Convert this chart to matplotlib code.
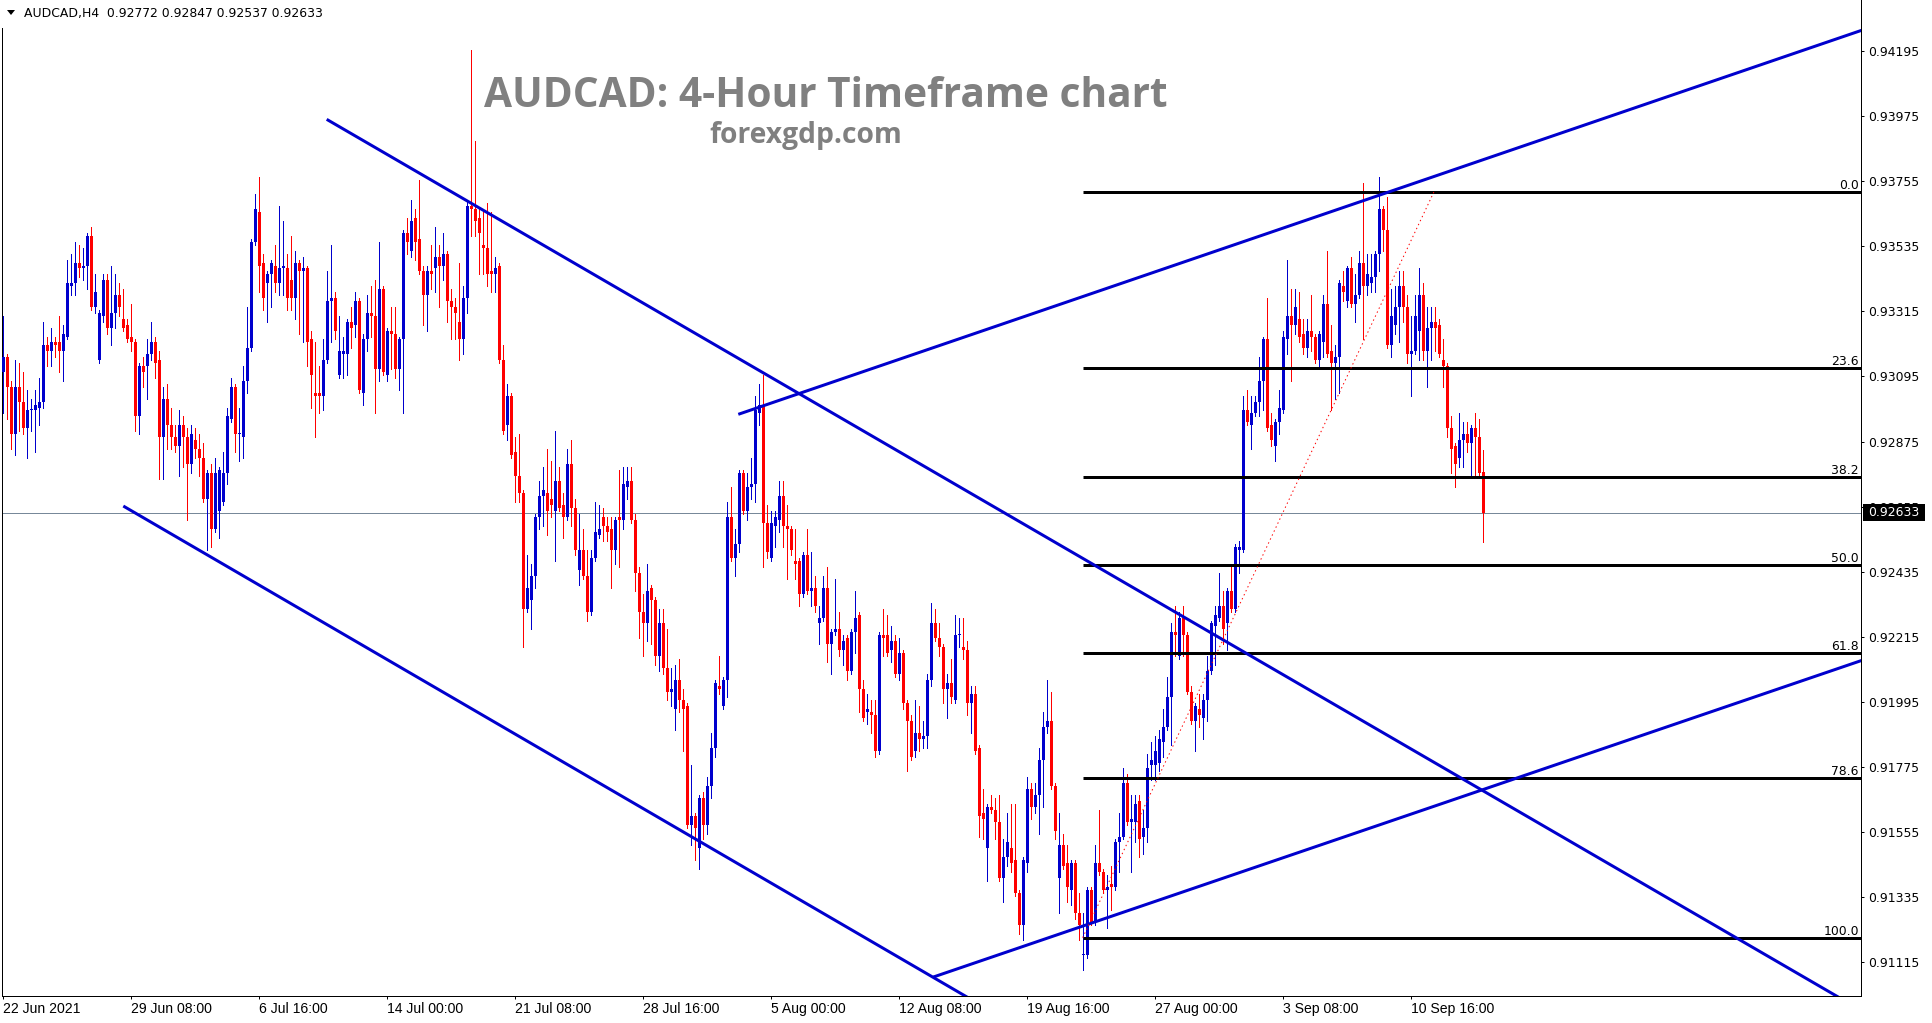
import matplotlib
matplotlib.use("Agg")
import matplotlib.pyplot as plt
import matplotlib.transforms as mtransforms
from matplotlib.patches import Rectangle, Polygon
import numpy as np

# ---------------- data (AUDCAD H4) ----------------
opens = [
 0.9311,0.9316,0.9306,0.9290,0.9306,0.9301,0.9292,0.9298,0.9298,0.9299,0.9301,0.9320,0.9318,0.9321,0.9321,0.9318,
 0.9323,0.9340,0.9341,0.9348,0.9346,0.9347,0.9357,0.9333,0.9315,0.9330,0.9342,0.9326,0.9331,0.9337,0.9329,0.9327,
 0.9323,0.9321,0.9296,0.9313,0.9313,0.9317,0.9321,0.9315,0.9289,0.9302,0.9293,0.9289,0.9286,0.9293,0.9289,0.9280,
 0.9288,0.9285,0.9282,0.9268,0.9277,0.9258,0.9264,0.9267,0.9277,0.9295,0.9306,0.9290,0.9289,0.9308,0.9319,0.9355,
 0.9365,0.9348,0.9341,0.9344,0.9347,0.9341,0.9346,0.9346,0.9342,0.9336,0.9348,0.9345,0.9346,0.9322,0.9304,0.9304,
 0.9303,0.9315,0.9335,0.9336,0.9310,0.9317,0.9317,0.9328,0.9327,0.9335,0.9304,0.9322,0.9331,0.9330,0.9312,0.9339,
 0.9310,0.9325,0.9324,0.9312,0.9322,0.9358,0.9352,0.9363,0.9356,0.9345,0.9337,0.9345,0.9346,0.9350,0.9347,0.9351,
 0.9335,0.9333,0.9328,0.9322,0.9336,0.9367,0.9366,0.9363,0.9354,0.9353,0.9345,0.9344,0.9347,0.9315,0.9293,0.9303,
 0.9284,0.9276,0.9270,0.9231,0.9234,0.9242,0.9262,0.9269,0.9270,0.9268,0.9264,0.9274,0.9266,0.9262,0.9280,0.9265,
 0.9244,0.9251,0.9242,0.9230,0.9248,0.9256,0.9262,0.9259,0.9258,0.9251,0.9262,0.9261,0.9272,0.9274,0.9261,0.9243,
 0.9230,0.9226,0.9238,0.9234,0.9215,0.9226,0.9211,0.9203,0.9197,0.9207,0.9200,0.9198,0.9158,0.9161,0.9150,0.9167,
 0.9158,0.9171,0.9184,0.9205,0.9198,0.9207,0.9262,0.9248,0.9253,0.9277,0.9264,0.9272,0.9273,0.9297,0.9300,0.9260,
 0.9248,0.9259,0.9261,0.9269,0.9259,0.9258,0.9247,0.9247,0.9236,0.9249,0.9237,0.9238,0.9226,0.9228,0.9238,0.9219,
 0.9223,0.9224,0.9217,0.9221,0.9210,0.9223,0.9229,0.9204,0.9196,0.9196,0.9195,0.9183,0.9222,0.9222,0.9217,0.9220,
 0.9209,0.9216,0.9199,0.9193,0.9183,0.9189,0.9187,0.9188,0.9207,0.9226,0.9221,0.9218,0.9204,0.9206,0.9200,0.9222,
 0.9218,0.9217,0.9199,0.9202,0.9184,0.9162,0.9150,0.9164,0.9163,0.9159,0.9140,0.9147,0.9150,0.9146,0.9135,0.9124,
 0.9145,0.9170,0.9164,0.9168,0.9180,0.9191,0.9193,0.9171,0.9140,0.9151,0.9145,0.9136,0.9145,0.9128,0.9114,0.9114,
 0.9136,0.9125,0.9145,0.9142,0.9136,0.9138,0.9137,0.9152,0.9154,0.9172,0.9159,0.9159,0.9166,0.9154,0.9157,0.9178,
 0.9178,0.9179,0.9186,0.9191,0.9201,0.9223,0.9215,0.9228,0.9222,0.9203,0.9193,0.9197,0.9194,0.9200,0.9210,0.9225,
 0.9228,0.9232,0.9226,0.9237,0.9231,0.9251,0.9251,0.9298,0.9293,0.9297,0.9301,0.9308,0.9322,0.9293,0.9286,0.9294,
 0.9298,0.9322,0.9330,0.9327,0.9329,0.9324,0.9319,0.9325,0.9323,0.9315,0.9321,0.9334,0.9318,0.9314,0.9316,0.9340,
 0.9335,0.9346,0.9334,0.9337,0.9348,0.9340,0.9341,0.9343,0.9351,0.9366,0.9359,0.9320,0.9327,0.9333,0.9340,0.9333,
 0.9317,0.9318,0.9325,0.9337,0.9318,0.9326,0.9328,0.9327,0.9315,0.9313,0.9292,0.9286,0.9282,0.9288,0.9290,0.9287,
 0.9292,0.9289,0.92772,
]
highs = [
 0.9330,0.9317,0.9308,0.9315,0.9314,0.9311,0.9305,0.9302,0.9305,0.9309,0.9328,0.9323,0.9326,0.9323,0.9330,0.9327,
 0.9349,0.9351,0.9355,0.9354,0.9353,0.9358,0.9360,0.9344,0.9332,0.9344,0.9344,0.9347,0.9344,0.9341,0.9339,0.9329,
 0.9334,0.9322,0.9314,0.9316,0.9322,0.9328,0.9323,0.9318,0.9306,0.9307,0.9299,0.9293,0.9298,0.9296,0.9292,0.9293,
 0.9292,0.9290,0.9287,0.9278,0.9280,0.9282,0.9279,0.9284,0.9299,0.9309,0.9307,0.9299,0.9313,0.9333,0.9356,0.9371,
 0.9377,0.9351,0.9345,0.9349,0.9354,0.9367,0.9362,0.9351,0.9357,0.9352,0.9349,0.9350,0.9347,0.9325,0.9321,0.9313,
 0.9322,0.9345,0.9354,0.9338,0.9330,0.9323,0.9329,0.9333,0.9338,0.9336,0.9324,0.9337,0.9340,0.9342,0.9355,0.9340,
 0.9326,0.9333,0.9333,0.9323,0.9359,0.9363,0.9369,0.9366,0.9376,0.9347,0.9347,0.9354,0.9360,0.9354,0.9358,0.9352,
 0.9339,0.9336,0.9348,0.9340,0.9369,0.9420,0.9389,0.9366,0.9366,0.9368,0.9365,0.9350,0.9348,0.9320,0.9307,0.9304,
 0.9289,0.9290,0.9271,0.9249,0.9246,0.9263,0.9274,0.9279,0.9285,0.9281,0.9291,0.9279,0.9270,0.9285,0.9288,0.9268,
 0.9263,0.9258,0.9251,0.9251,0.9267,0.9266,0.9265,0.9262,0.9262,0.9262,0.9278,0.9279,0.9279,0.9279,0.9263,0.9245,
 0.9236,0.9246,0.9239,0.9235,0.9231,0.9231,0.9224,0.9211,0.9212,0.9214,0.9204,0.9199,0.9178,0.9162,0.9168,0.9169,
 0.9174,0.9189,0.9207,0.9215,0.9208,0.9267,0.9272,0.9258,0.9278,0.9278,0.9277,0.9282,0.9303,0.9307,0.9310,0.9266,
 0.9264,0.9264,0.9274,0.9274,0.9266,0.9259,0.9258,0.9248,0.9250,0.9258,0.9250,0.9242,0.9232,0.9242,0.9245,0.9224,
 0.9241,0.9230,0.9222,0.9222,0.9224,0.9237,0.9230,0.9207,0.9202,0.9200,0.9200,0.9223,0.9231,0.9229,0.9225,0.9222,
 0.9221,0.9217,0.9200,0.9195,0.9200,0.9198,0.9193,0.9209,0.9233,0.9231,0.9226,0.9219,0.9209,0.9214,0.9229,0.9228,
 0.9228,0.9220,0.9205,0.9205,0.9185,0.9170,0.9165,0.9168,0.9167,0.9168,0.9153,0.9162,0.9165,0.9165,0.9136,0.9147,
 0.9174,0.9172,0.9172,0.9184,0.9196,0.9207,0.9203,0.9172,0.9162,0.9155,0.9151,0.9146,0.9146,0.9135,0.9128,0.9137,
 0.9137,0.9151,0.9163,0.9143,0.9141,0.9144,0.9153,0.9162,0.9177,0.9175,0.9168,0.9168,0.9168,0.9163,0.9182,0.9186,
 0.9188,0.9190,0.9197,0.9208,0.9226,0.9232,0.9230,0.9232,0.9223,0.9205,0.9199,0.9202,0.9202,0.9215,0.9227,0.9232,
 0.9243,0.9237,0.9238,0.9245,0.9253,0.9254,0.9303,0.9305,0.9303,0.9303,0.9316,0.9323,0.9336,0.9297,0.9295,0.9305,
 0.9325,0.9349,0.9339,0.9339,0.9338,0.9329,0.9329,0.9337,0.9324,0.9325,0.9337,0.9352,0.9327,0.9320,0.9342,0.9345,
 0.9347,0.9350,0.9344,0.9352,0.9375,0.9351,0.9351,0.9352,0.9377,0.9367,0.9370,0.9339,0.9340,0.9345,0.9345,0.9337,
 0.9330,0.9337,0.9346,0.9341,0.9333,0.9333,0.9333,0.9329,0.9322,0.9314,0.9296,0.9287,0.9297,0.9294,0.9294,0.9293,
 0.9297,0.9295,0.92847,
]
lows = [
 0.9297,0.9295,0.9285,0.9283,0.9291,0.9290,0.9282,0.9291,0.9284,0.9293,0.9299,0.9313,0.9313,0.9316,0.9311,0.9308,
 0.9322,0.9337,0.9337,0.9343,0.9342,0.9339,0.9332,0.9331,0.9314,0.9328,0.9324,0.9320,0.9326,0.9330,0.9325,0.9321,
 0.9318,0.9291,0.9290,0.9306,0.9302,0.9315,0.9309,0.9275,0.9275,0.9285,0.9285,0.9284,0.9276,0.9279,0.9261,0.9277,
 0.9282,0.9276,0.9267,0.9251,0.9252,0.9257,0.9255,0.9266,0.9273,0.9294,0.9284,0.9281,0.9282,0.9304,0.9318,0.9354,
 0.9338,0.9332,0.9328,0.9333,0.9338,0.9337,0.9337,0.9332,0.9332,0.9329,0.9324,0.9321,0.9313,0.9299,0.9289,0.9297,
 0.9298,0.9314,0.9321,0.9322,0.9309,0.9309,0.9310,0.9319,0.9323,0.9304,0.9300,0.9318,0.9323,0.9297,0.9308,0.9310,
 0.9308,0.9312,0.9309,0.9305,0.9297,0.9351,0.9350,0.9349,0.9344,0.9327,0.9325,0.9339,0.9338,0.9333,0.9342,0.9328,
 0.9322,0.9322,0.9315,0.9317,0.9331,0.9357,0.9357,0.9344,0.9344,0.9340,0.9338,0.9338,0.9314,0.9290,0.9288,0.9282,
 0.9267,0.9267,0.9218,0.9230,0.9224,0.9238,0.9258,0.9259,0.9256,0.9262,0.9247,0.9264,0.9255,0.9261,0.9259,0.9249,
 0.9239,0.9241,0.9227,0.9229,0.9247,0.9255,0.9254,0.9254,0.9238,0.9246,0.9245,0.9258,0.9268,0.9260,0.9237,0.9221,
 0.9215,0.9220,0.9219,0.9212,0.9210,0.9209,0.9200,0.9198,0.9190,0.9196,0.9183,0.9157,0.9151,0.9146,0.9143,0.9153,
 0.9155,0.9167,0.9181,0.9202,0.9197,0.9201,0.9247,0.9242,0.9250,0.9263,0.9261,0.9268,0.9267,0.9293,0.9245,0.9248,
 0.9247,0.9252,0.9257,0.9252,0.9241,0.9249,0.9241,0.9232,0.9235,0.9236,0.9232,0.9230,0.9219,0.9227,0.9213,0.9209,
 0.9222,0.9215,0.9212,0.9207,0.9209,0.9216,0.9196,0.9193,0.9192,0.9189,0.9181,0.9182,0.9215,0.9215,0.9213,0.9208,
 0.9207,0.9197,0.9176,0.9180,0.9181,0.9183,0.9184,0.9184,0.9205,0.9220,0.9215,0.9199,0.9194,0.9199,0.9199,0.9218,
 0.9214,0.9195,0.9189,0.9182,0.9154,0.9153,0.9139,0.9162,0.9153,0.9139,0.9132,0.9144,0.9142,0.9134,0.9121,0.9119,
 0.9142,0.9160,0.9162,0.9155,0.9164,0.9189,0.9170,0.9153,0.9128,0.9143,0.9132,0.9131,0.9126,0.9119,0.9109,0.9113,
 0.9124,0.9124,0.9141,0.9135,0.9123,0.9129,0.9136,0.9142,0.9153,0.9158,0.9142,0.9152,0.9147,0.9148,0.9152,0.9173,
 0.9173,0.9176,0.9181,0.9190,0.9185,0.9215,0.9214,0.9215,0.9202,0.9192,0.9183,0.9191,0.9187,0.9193,0.9209,0.9212,
 0.9227,0.9219,0.9217,0.9230,0.9230,0.9243,0.9250,0.9293,0.9285,0.9296,0.9296,0.9298,0.9291,0.9286,0.9281,0.9290,
 0.9297,0.9317,0.9308,0.9324,0.9321,0.9317,0.9316,0.9318,0.9314,0.9313,0.9316,0.9316,0.9298,0.9302,0.9304,0.9335,
 0.9333,0.9333,0.9328,0.9336,0.9322,0.9337,0.9338,0.9338,0.9345,0.9352,0.9319,0.9316,0.9324,0.9321,0.9328,0.9314,
 0.9303,0.9317,0.9315,0.9315,0.9306,0.9315,0.9318,0.9316,0.9306,0.9289,0.9277,0.9272,0.9279,0.9279,0.9284,0.9276,
 0.9276,0.9276,0.92537,
]
closes = [
 0.9316,0.9306,0.9290,0.9306,0.9301,0.9292,0.9298,0.9298,0.9300,0.9301,0.9320,0.9318,0.9321,0.9320,0.9318,0.9324,
 0.9341,0.9341,0.9348,0.9346,0.9347,0.9357,0.9333,0.9338,0.9331,0.9342,0.9326,0.9331,0.9337,0.9333,0.9326,0.9322,
 0.9321,0.9296,0.9313,0.9311,0.9317,0.9321,0.9314,0.9289,0.9302,0.9293,0.9289,0.9286,0.9293,0.9289,0.9280,0.9290,
 0.9285,0.9282,0.9268,0.9277,0.9258,0.9277,0.9278,0.9277,0.9296,0.9306,0.9290,0.9290,0.9308,0.9319,0.9355,0.9366,
 0.9347,0.9336,0.9344,0.9348,0.9341,0.9346,0.9347,0.9336,0.9336,0.9348,0.9345,0.9346,0.9321,0.9310,0.9303,0.9303,
 0.9315,0.9335,0.9336,0.9325,0.9318,0.9318,0.9328,0.9326,0.9335,0.9305,0.9322,0.9331,0.9330,0.9312,0.9339,0.9311,
 0.9325,0.9324,0.9312,0.9322,0.9358,0.9355,0.9362,0.9355,0.9345,0.9337,0.9345,0.9344,0.9350,0.9347,0.9351,0.9335,
 0.9333,0.9331,0.9322,0.9336,0.9367,0.9366,0.9362,0.9358,0.9353,0.9344,0.9344,0.9346,0.9315,0.9291,0.9303,0.9283,
 0.9276,0.9270,0.9231,0.9238,0.9242,0.9262,0.9269,0.9271,0.9264,0.9266,0.9274,0.9265,0.9262,0.9280,0.9265,0.9251,
 0.9251,0.9242,0.9230,0.9248,0.9257,0.9258,0.9259,0.9257,0.9251,0.9261,0.9261,0.9273,0.9274,0.9261,0.9243,0.9230,
 0.9226,0.9237,0.9234,0.9215,0.9226,0.9211,0.9203,0.9204,0.9207,0.9200,0.9197,0.9158,0.9161,0.9157,0.9167,0.9158,
 0.9171,0.9184,0.9206,0.9204,0.9207,0.9262,0.9248,0.9253,0.9277,0.9264,0.9272,0.9273,0.9298,0.9300,0.9260,0.9250,
 0.9260,0.9262,0.9269,0.9259,0.9258,0.9251,0.9246,0.9236,0.9249,0.9237,0.9238,0.9232,0.9228,0.9238,0.9219,0.9223,
 0.9224,0.9217,0.9220,0.9210,0.9223,0.9228,0.9204,0.9194,0.9197,0.9195,0.9183,0.9222,0.9221,0.9216,0.9220,0.9209,
 0.9216,0.9199,0.9193,0.9181,0.9189,0.9187,0.9188,0.9207,0.9226,0.9221,0.9218,0.9204,0.9206,0.9201,0.9222,0.9222,
 0.9217,0.9199,0.9202,0.9183,0.9161,0.9160,0.9164,0.9163,0.9159,0.9140,0.9147,0.9152,0.9145,0.9135,0.9124,0.9146,
 0.9170,0.9164,0.9168,0.9180,0.9191,0.9193,0.9171,0.9156,0.9151,0.9144,0.9137,0.9145,0.9128,0.9124,0.9114,0.9136,
 0.9125,0.9145,0.9142,0.9136,0.9137,0.9137,0.9152,0.9154,0.9172,0.9159,0.9160,0.9165,0.9153,0.9157,0.9177,0.9180,
 0.9183,0.9187,0.9191,0.9201,0.9223,0.9222,0.9228,0.9222,0.9203,0.9193,0.9198,0.9195,0.9200,0.9210,0.9226,0.9229,
 0.9232,0.9224,0.9237,0.9231,0.9252,0.9252,0.9298,0.9294,0.9297,0.9301,0.9308,0.9322,0.9292,0.9288,0.9294,0.9299,
 0.9323,0.9330,0.9327,0.9333,0.9323,0.9319,0.9325,0.9323,0.9315,0.9324,0.9334,0.9317,0.9314,0.9316,0.9341,0.9338,
 0.9346,0.9334,0.9337,0.9348,0.9340,0.9344,0.9343,0.9351,0.9366,0.9359,0.9320,0.9330,0.9333,0.9340,0.9333,0.9317,
 0.9318,0.9330,0.9337,0.9318,0.9326,0.9328,0.9326,0.9317,0.9313,0.9292,0.9285,0.9280,0.9288,0.9290,0.9287,0.9292,
 0.9289,0.9277,0.92633,
]

# x-axis labels (every 32nd H4 bar) and price-axis labels
xtick_bars = [0, 32, 64, 96, 128, 160, 192, 224, 256, 288, 320, 352]
xtick_labels = ["22 Jun 2021", "29 Jun 08:00", "6 Jul 16:00", "14 Jul 00:00", "21 Jul 08:00",
                "28 Jul 16:00", "5 Aug 00:00", "12 Aug 08:00", "19 Aug 16:00", "27 Aug 00:00",
                "3 Sep 08:00", "10 Sep 16:00"]
ytick_values = [0.94195, 0.93975, 0.93755, 0.93535, 0.93315, 0.93095, 0.92875, 0.92655,
                0.92435, 0.92215, 0.91995, 0.91775, 0.91555, 0.91335, 0.91115]

header = "AUDCAD,H4  0.92772 0.92847 0.92537 0.92633"
title = "AUDCAD: 4-Hour Timeframe chart"
subtitle = "forexgdp.com"
current_price = 0.92633

# drawn objects: (bar index, price) end points
trend_down_lower = [(30.0, 0.92657), (250.0, 0.90926)]
trend_down_upper = [(80.85, 0.93964), (470.0, 0.90909)]
trend_up_upper = [(183.75, 0.92967), (470.0, 0.94290)]
trend_up_lower = [(232.5, 0.91065), (470.0, 0.92160)]

fib_anchor_low = (269.85, 0.91198)
fib_anchor_high = (357.7, 0.93720)
fib_levels = [0.0, 23.6, 38.2, 50.0, 61.8, 78.6, 100.0]

# ---------------- figure ----------------
W, H, DPI = 1933, 1023, 100
fig = plt.figure(figsize=(W / DPI, H / DPI), dpi=DPI, facecolor="white")

AX_L, AX_R, AX_T, AX_B = 2.5, 1861.0, 0.0, 996.0
ax = fig.add_axes([AX_L / W, 1 - AX_B / H, (AX_R - AX_L) / W, (AX_B - AX_T) / H])
ax.set_facecolor("white")

BAR_PX, X0_PX = 4.0, 3.3
Y_TOP, Y_BOT = 0.943674, 0.910009
ax.set_xlim((AX_L - X0_PX) / BAR_PX, (AX_R - X0_PX) / BAR_PX)
ax.set_ylim(Y_BOT, Y_TOP)
px_price = (Y_TOP - Y_BOT) / (AX_B - AX_T)

BLUE = "#0000CD"
RED = "#FF0000"
PX = 72.0 / DPI  # one pixel in points

o = np.array(opens); h = np.array(highs); l = np.array(lows); c = np.array(closes)
xb = np.arange(len(o))
col = np.where(c >= o, BLUE, RED)

ax.vlines(xb, l, h, colors=col, linewidth=PX, antialiased=False, zorder=3)
body_lo = np.minimum(o, c)
body_h = np.maximum(np.abs(c - o), px_price)
ax.bar(xb, body_h, bottom=body_lo, width=0.75, color=col, linewidth=0,
       antialiased=False, zorder=4)

# current price line
ax.axhline(current_price, color="#778899", linewidth=PX, zorder=2)

# trend lines
for seg in (trend_down_lower, trend_down_upper, trend_up_upper, trend_up_lower):
    (x1, y1), (x2, y2) = seg
    ax.plot([x1, x2], [y1, y2], color=BLUE, linewidth=3 * PX, solid_capstyle="butt", zorder=6)

# fibonacci retracement
fx0, fy_low = fib_anchor_low
fx1, fy_high = fib_anchor_high
rng = fy_high - fy_low
xr = ax.get_xlim()[1]
lab_tr = ax.get_yaxis_transform() + mtransforms.ScaledTranslation(-2 / DPI, 3 / DPI, fig.dpi_scale_trans)
for lv in fib_levels:
    price = fy_high - rng * lv / 100.0
    ax.plot([fx0, xr + 5], [price, price], color="black", linewidth=3 * PX,
            solid_capstyle="butt", zorder=5)
    ax.text(1.0, price, f"{lv:.1f}", transform=lab_tr, ha="right", va="baseline",
            fontsize=8.9, family="DejaVu Sans", color="black", zorder=7)
ax.plot([fx0, fx1], [fy_low, fy_high], color="red", linewidth=PX,
        linestyle=(0, (1.4, 3)), zorder=6)

# axes styling
ax.spines["top"].set_visible(False)
for s in ("left", "right", "bottom"):
    ax.spines[s].set_linewidth(PX)
    ax.spines[s].set_color("black")
ax.spines["left"].set_bounds(Y_BOT, Y_TOP - 28 * px_price)

ax.yaxis.tick_right()
ax.set_yticks(ytick_values)
ax.set_yticklabels([f"{v:.5f}" for v in ytick_values])
ax.tick_params(axis="y", direction="out", length=3 * PX, width=PX, pad=3,
               labelsize=8.9, colors="black")
ax.set_xticks(xtick_bars)
ax.set_xticklabels(xtick_labels, ha="left", family="Liberation Sans", fontsize=10.1)
ax.tick_params(axis="x", direction="out", length=3 * PX, width=PX, pad=2.5, colors="black")
for t in ax.get_yticklabels():
    t.set_family("DejaVu Sans")

# current price box on the price axis
box_y0, box_y1 = 504, 521
fig.patches.append(Rectangle((1863 / W, 1 - box_y1 / H), 62 / W, (box_y1 - box_y0) / H,
                             transform=fig.transFigure, facecolor="black", edgecolor="none",
                             zorder=10))
fig.text(1868 / W, 1 - 512.5 / H, f"{current_price:.5f}", color="white", fontsize=8.9,
         family="DejaVu Sans", ha="left", va="center", zorder=11)

# header
fig.patches.append(Polygon([(7 / W, 1 - 10 / H), (15 / W, 1 - 10 / H), (11 / W, 1 - 15 / H)],
                           closed=True, transform=fig.transFigure, facecolor="black",
                           edgecolor="none", zorder=10))
fig.text(24 / W, 1 - 13.5 / H, header, fontsize=8.9, family="DejaVu Sans",
         ha="left", va="center", color="black", zorder=11)

# watermark titles, sized to the reference widths
renderer = fig.canvas.get_renderer()
def fitted(txt, cx, base_y, width_px, **kw):
    t = fig.text(cx / W, 1 - base_y / H, txt, ha="center", va="baseline", fontsize=30, **kw)
    bb = t.get_window_extent(renderer=renderer)
    t.set_fontsize(30 * width_px / bb.width)
    return t

fitted(title, 826, 107, 684, family="Open Sans", weight="bold", color="#808080", zorder=8)
fitted(subtitle, 806, 143.5, 193, family="Open Sans", weight="bold", color="#808080", zorder=8)

fig.savefig("out.png", dpi=DPI, facecolor="white")
